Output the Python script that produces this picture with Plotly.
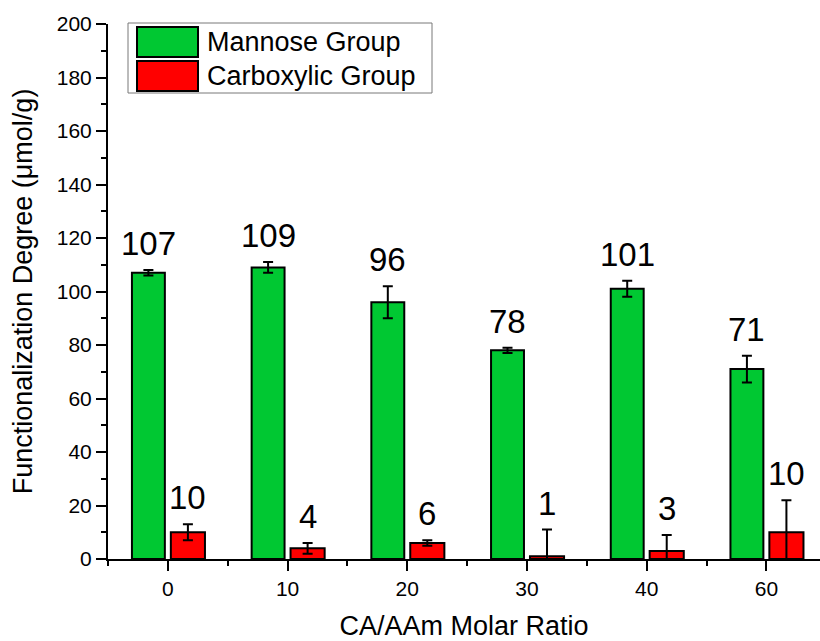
import plotly.graph_objects as go

# Data
ratios = ["0", "10", "20", "30", "40", "60"]
mannose = [107, 109, 96, 78, 101, 71]
mannose_err = [1, 2, 6, 1, 3, 5]
carboxylic = [10, 4, 6, 1, 3, 10]
carboxylic_err = [3, 2, 1, 10, 6, 12]

GREEN = "rgb(0,200,50)"
RED = "rgb(255,0,0)"
FONT = "Arial"

pos = list(range(len(ratios)))
g_off, g_w = -0.30, 0.275
r_off, r_w = 0.025, 0.285

fig = go.Figure()
fig.add_trace(go.Bar(
    x=pos, y=mannose, name="Mannose Group",
    offset=g_off, width=g_w,
    marker=dict(color=GREEN, line=dict(color="black", width=2)),
    error_y=dict(type="data", array=mannose_err, color="black", thickness=2, width=5),
    showlegend=False,
))
fig.add_trace(go.Bar(
    x=pos, y=carboxylic, name="Carboxylic Group",
    offset=r_off, width=r_w,
    marker=dict(color=RED, line=dict(color="black", width=2)),
    error_y=dict(type="data", array=carboxylic_err, color="black", thickness=2, width=5),
    showlegend=False,
))

# Value labels above each error bar
annotations = []
for series, errs, off, w in ((mannose, mannose_err, g_off, g_w),
                             (carboxylic, carboxylic_err, r_off, r_w)):
    for i, (v, e) in enumerate(zip(series, errs)):
        annotations.append(dict(
            x=i + off + w / 2, y=v + e, xref="x", yref="y",
            text=str(v), showarrow=False, yanchor="bottom", xanchor="center",
            yshift=6, font=dict(family=FONT, size=33, color="black"),
        ))

# Legend box drawn as shapes and text
shapes = [
    dict(type="rect", xref="paper", yref="paper",
         x0=(128 - 108) / 712, x1=(432 - 108) / 712,
         y0=(559 - 93) / 535, y1=(559 - 23) / 535,
         line=dict(color="rgb(120,120,120)", width=1), fillcolor="white", layer="above"),
    dict(type="rect", xref="paper", yref="paper",
         x0=(137 - 108) / 712, x1=(198 - 108) / 712,
         y0=(559 - 57) / 535, y1=(559 - 27) / 535,
         line=dict(color="black", width=2), fillcolor=GREEN, layer="above"),
    dict(type="rect", xref="paper", yref="paper",
         x0=(137 - 108) / 712, x1=(198 - 108) / 712,
         y0=(559 - 91) / 535, y1=(559 - 61) / 535,
         line=dict(color="black", width=2), fillcolor=RED, layer="above"),
]
for label, yc in (("Mannose Group", 42), ("Carboxylic Group", 76)):
    annotations.append(dict(
        x=(205 - 108) / 712, y=(559 - yc) / 535, xref="paper", yref="paper",
        text=label, showarrow=False, xanchor="left", yanchor="middle",
        font=dict(family=FONT, size=27, color="black"),
    ))

fig.update_layout(
    width=820, height=641,
    margin=dict(l=108, r=0, t=24, b=82),
    plot_bgcolor="white", paper_bgcolor="white",
    barmode="overlay",
    font=dict(family=FONT, color="black"),
    shapes=shapes, annotations=annotations,
)
fig.update_xaxes(
    range=[-0.5, 5.448], tickvals=pos, ticktext=ratios,
    showline=True, linecolor="black", linewidth=2, showgrid=False, zeroline=False,
    ticks="outside", ticklen=10, tickwidth=2, tickcolor="black",
    minor=dict(tickvals=[p - 0.5 for p in pos] + [len(pos) - 0.5], ticks="outside",
               ticklen=5, tickwidth=2, tickcolor="black", showgrid=False),
    tickfont=dict(family=FONT, size=21, color="black"),
    title=dict(text="CA/AAm Molar Ratio", font=dict(family=FONT, size=27, color="black"), standoff=18),
)
fig.update_yaxes(
    range=[0, 200], tickvals=list(range(0, 201, 20)),
    showline=True, linecolor="black", linewidth=2, showgrid=False, zeroline=False,
    ticks="outside", ticklen=10, tickwidth=2, tickcolor="black",
    minor=dict(tickvals=list(range(10, 200, 20)), ticks="outside",
               ticklen=5, tickwidth=2, tickcolor="black", showgrid=False),
    tickfont=dict(family=FONT, size=21, color="black"),
    title=dict(text="Functionalization Degree (\u03bcmol/g)",
               font=dict(family=FONT, size=27, color="black"), standoff=16),
)

fig.write_html("out.html")
